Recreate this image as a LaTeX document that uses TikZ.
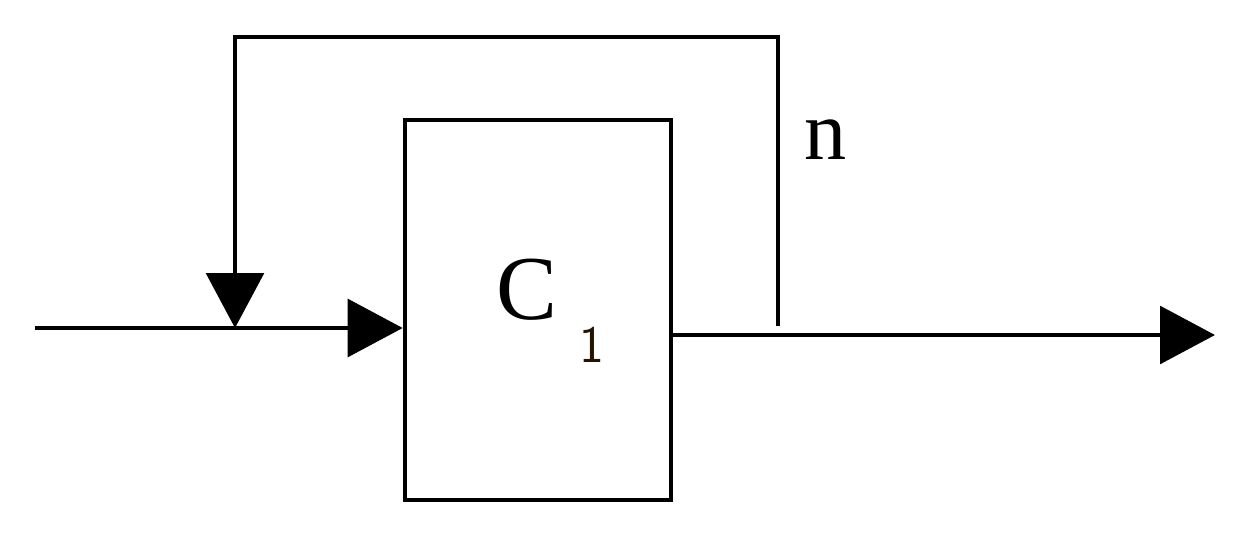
\documentclass[tikz,border=0pt]{standalone}
\usepackage{fontspec}
\setmainfont{Liberation Serif}
\usetikzlibrary{arrows.meta}
\begin{document}
\begin{tikzpicture}[x=0.02cm,y=-0.02cm,
  wire/.style={line width=2.6pt},
  arr/.style={wire,-{Triangle[length=1.1cm,width=1.15cm]}}]
\useasboundingbox (0,0) rectangle (1238,541);
\node[draw,line width=2.6pt,minimum width=266*0.02cm,minimum height=380*0.02cm,inner sep=0] (box) at (538,310) {};
\node[font=\fontsize{52}{58}\selectfont] (c) at (527,290) {C};
\node[font=\sffamily\fontsize{30}{34}\selectfont,text=black!85!orange] (s) at (592,345) {1};
\coordinate (in) at (35,328);
\coordinate (fb) at (235,328);
\coordinate (top1) at (235,37);
\coordinate (top2) at (780,37);
\coordinate (tap) at (778,326);
\coordinate (out) at (1215,335);
\draw[arr] (in) -- (box.west |- in);
\draw[wire] (tap) -- (top2 -| tap) -- (top1) -- (235,200);
\draw[arr] (top1) -- (fb);
\draw[arr] (box.east |- out) -- (out);
\node[font=\fontsize{48}{54}\selectfont] (n) at (826,140) {n};
\end{tikzpicture}
\end{document}
